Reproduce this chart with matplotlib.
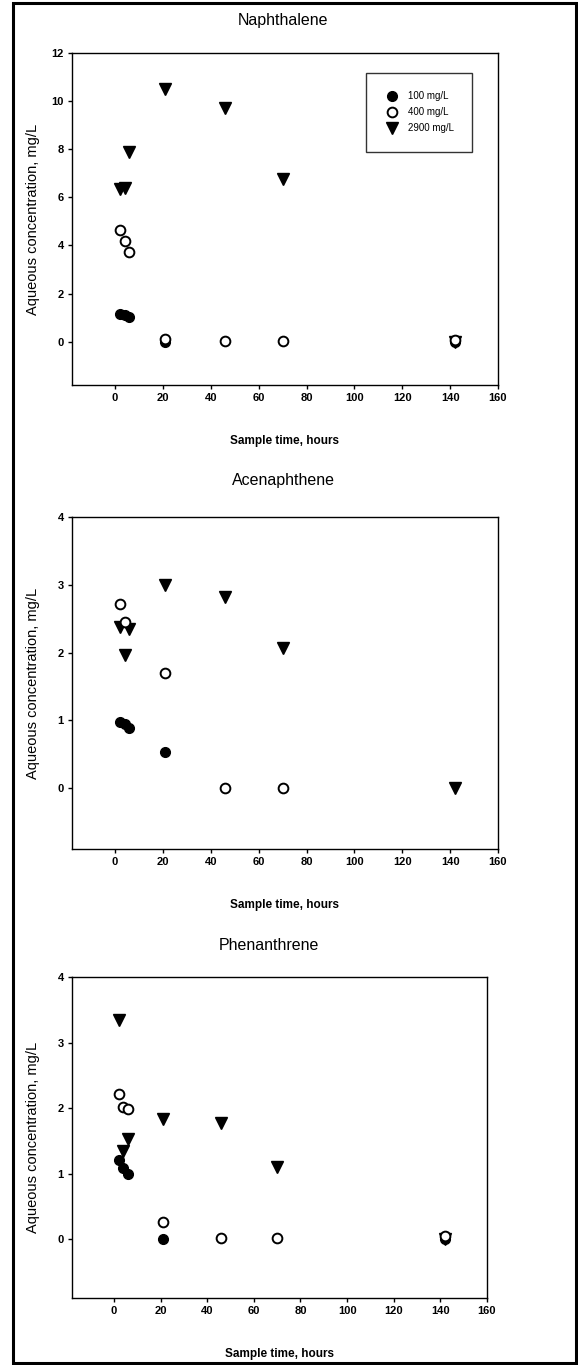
"""
Aqueous concentration vs sample time for three PAHs
(Naphthalene, Acenaphthene, Phenanthrene) at three loadings.
"""

import matplotlib
matplotlib.use('Agg')
import matplotlib.pyplot as plt
from matplotlib.patches import Rectangle

plt.rcParams['font.family'] = ['Liberation Sans', 'DejaVu Sans']

# ── Data ────────────────────────────────────────────────────────────────
LABELS = ['100 mg/L', '400 mg/L', '2900 mg/L']

# Naphthalene
NAP_100_T = [2, 4, 6, 21, 142]
NAP_100_C = [1.17, 1.12, 1.02, 0.0, 0.0]
NAP_400_T = [2, 4, 6, 21, 46, 70, 142]
NAP_400_C = [4.65, 4.2, 3.72, 0.1, 0.02, 0.03, 0.05]
NAP_2900_T = [2, 4, 6, 21, 46, 70, 142]
NAP_2900_C = [6.35, 6.4, 7.9, 10.5, 9.72, 6.75, 0.0]

# Acenaphthene
ACE_100_T = [2, 4, 6, 21]
ACE_100_C = [0.97, 0.94, 0.89, 0.53]
ACE_400_T = [2, 4, 21, 46, 70]
ACE_400_C = [2.71, 2.45, 1.70, 0.0, 0.0]
ACE_2900_T = [2, 4, 6, 21, 46, 70, 142]
ACE_2900_C = [2.38, 1.96, 2.35, 3.0, 2.82, 2.06, 0.0]

# Phenanthrene
PHE_100_T = [2, 4, 6, 21, 142]
PHE_100_C = [1.2, 1.08, 1.0, 0.0, 0.0]
PHE_400_T = [2, 4, 6, 21, 46, 70, 142]
PHE_400_C = [2.21, 2.02, 1.98, 0.26, 0.01, 0.01, 0.04]
PHE_2900_T = [2, 4, 6, 21, 46, 70, 142]
PHE_2900_C = [3.34, 1.35, 1.52, 1.83, 1.77, 1.1, 0.0]

PANELS = [
    ('Naphthalene',
     (NAP_100_T, NAP_100_C), (NAP_400_T, NAP_400_C), (NAP_2900_T, NAP_2900_C),
     (-1.8, 12), [0, 2, 4, 6, 8, 10, 12]),
    ('Acenaphthene',
     (ACE_100_T, ACE_100_C), (ACE_400_T, ACE_400_C), (ACE_2900_T, ACE_2900_C),
     (-0.9, 4), [0, 1, 2, 3, 4]),
    ('Phenanthrene',
     (PHE_100_T, PHE_100_C), (PHE_400_T, PHE_400_C), (PHE_2900_T, PHE_2900_C),
     (-0.9, 4), [0, 1, 2, 3, 4]),
]

XTICKS = [0, 20, 40, 60, 80, 100, 120, 140, 160]

# ── Layout in pixels (left, right, top, bottom) + title centre ──────────
W, H = 578, 1365
BOXES = [(72, 498, 53, 385), (72, 498, 517, 849), (72, 487, 977, 1298)]
TITLE_XY = [(283, 20), (283, 480), (269, 945)]

fig = plt.figure(figsize=(W / 100, H / 100), dpi=100)
fig.patch.set_facecolor('white')

# outer frame of the scanned page
fig.add_artist(Rectangle((13 / W, 2 / H), (576 - 13) / W, (1362 - 2) / H,
                         transform=fig.transFigure, fill=False,
                         edgecolor='black', lw=2.2))

for (title, s100, s400, s2900, ylim, yticks), (l, r, t, b), (tx, ty) in zip(
        PANELS, BOXES, TITLE_XY):
    ax = fig.add_axes([l / W, 1 - b / H, (r - l) / W, (b - t) / H])

    ax.plot(s2900[0], s2900[1], ls='none', marker='v', ms=8.5,
            color='black', label=LABELS[2], zorder=3)
    ax.plot(s100[0], s100[1], ls='none', marker='o', ms=7,
            color='black', label=LABELS[0], zorder=4)
    ax.plot(s400[0], s400[1], ls='none', marker='o', ms=7,
            mfc='white', mec='black', mew=1.4, label=LABELS[1], zorder=5)

    ax.set_xlim(-18, 160)
    ax.set_ylim(*ylim)
    ax.set_xticks(XTICKS)
    ax.set_yticks(yticks)
    ax.tick_params(direction='out', length=3, width=1, labelsize=8, pad=3)
    for lab in ax.get_xticklabels() + ax.get_yticklabels():
        lab.set_fontweight('bold')
    for spine in ax.spines.values():
        spine.set_linewidth(1.0)
        spine.set_color('black')

    fig.text(tx / W, 1 - ty / H, title, fontsize=11.5, ha='center', va='center')
    ax.set_xlabel('Sample time, hours', fontsize=8.5, fontweight='bold')
    ax.xaxis.set_label_coords(0.5, -50 / (b - t))
    ax.set_ylabel('Aqueous concentration, mg/L', fontsize=10.5)
    ax.yaxis.set_label_coords((40 - l) / (r - l), 0.5)

    if title == 'Naphthalene':
        h, lb = ax.get_legend_handles_labels()
        order = [1, 2, 0]
        leg = ax.legend([h[i] for i in order], [lb[i] for i in order],
                        loc='upper left',
                        bbox_to_anchor=((366 - l) / (r - l), 1 - (73 - t) / (b - t)),
                        fontsize=7, frameon=True, fancybox=False,
                        edgecolor='black', borderpad=1.9, labelspacing=0.6,
                        handletextpad=0.9, borderaxespad=0, handlelength=1.5)
        leg.get_frame().set_linewidth(1.0)

fig.savefig('out.png', dpi=100, facecolor='white')
